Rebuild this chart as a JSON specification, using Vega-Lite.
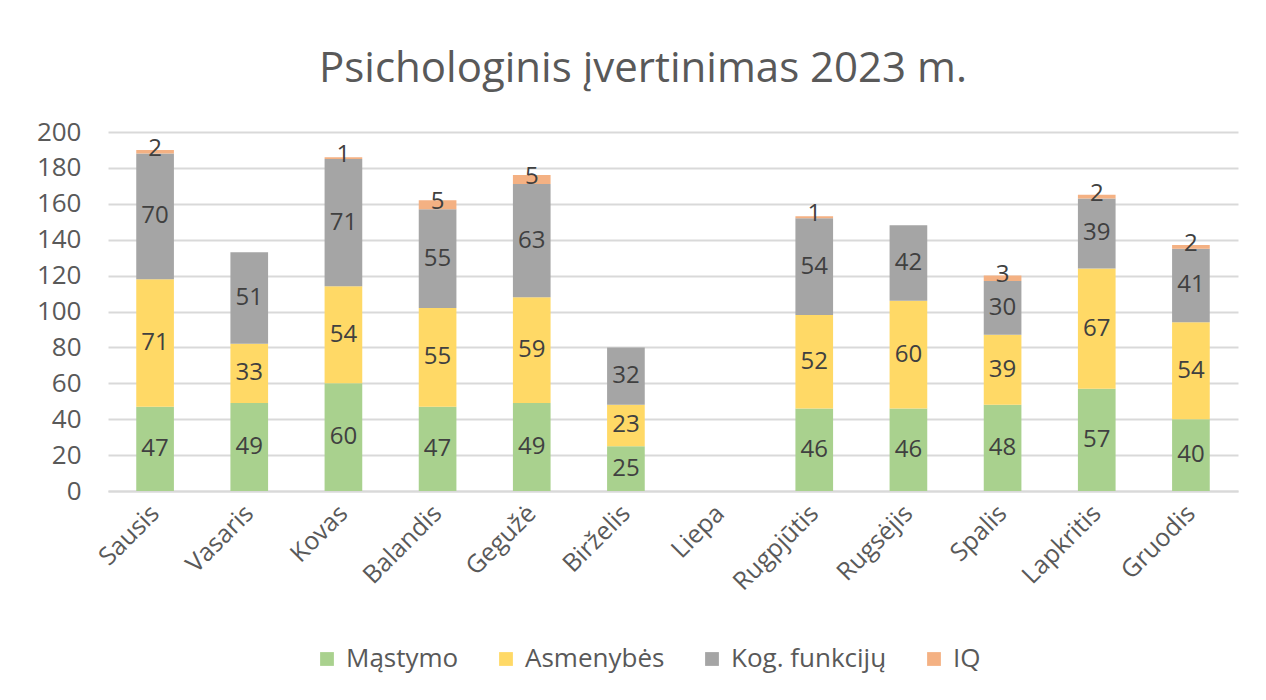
{
  "$schema": "https://vega.github.io/schema/vega-lite/v6.json",
  "width": 1130,
  "height": 359,
  "autosize": {"type": "none"},
  "padding": {"left": 108, "top": 132, "right": 28, "bottom": 209},
  "background": "white",
  "config": {"view": {"stroke": null}},
  "title": {
    "text": "Psichologinis įvertinimas 2023 m.",
    "font": "Open Sans",
    "fontSize": 42,
    "fontWeight": "normal",
    "color": "#595959",
    "anchor": "middle",
    "dx": -30,
    "offset": 28
  },
  "data": {
    "values": [
      {"month": "Sausis", "series": "Mąstymo", "k": 1, "value": 47},
      {"month": "Sausis", "series": "Asmenybės", "k": 2, "value": 71},
      {"month": "Sausis", "series": "Kog. funkcijų", "k": 3, "value": 70},
      {"month": "Sausis", "series": "IQ", "k": 4, "value": 2},
      {"month": "Vasaris", "series": "Mąstymo", "k": 1, "value": 49},
      {"month": "Vasaris", "series": "Asmenybės", "k": 2, "value": 33},
      {"month": "Vasaris", "series": "Kog. funkcijų", "k": 3, "value": 51},
      {"month": "Kovas", "series": "Mąstymo", "k": 1, "value": 60},
      {"month": "Kovas", "series": "Asmenybės", "k": 2, "value": 54},
      {"month": "Kovas", "series": "Kog. funkcijų", "k": 3, "value": 71},
      {"month": "Kovas", "series": "IQ", "k": 4, "value": 1},
      {"month": "Balandis", "series": "Mąstymo", "k": 1, "value": 47},
      {"month": "Balandis", "series": "Asmenybės", "k": 2, "value": 55},
      {"month": "Balandis", "series": "Kog. funkcijų", "k": 3, "value": 55},
      {"month": "Balandis", "series": "IQ", "k": 4, "value": 5},
      {"month": "Gegužė", "series": "Mąstymo", "k": 1, "value": 49},
      {"month": "Gegužė", "series": "Asmenybės", "k": 2, "value": 59},
      {"month": "Gegužė", "series": "Kog. funkcijų", "k": 3, "value": 63},
      {"month": "Gegužė", "series": "IQ", "k": 4, "value": 5},
      {"month": "Birželis", "series": "Mąstymo", "k": 1, "value": 25},
      {"month": "Birželis", "series": "Asmenybės", "k": 2, "value": 23},
      {"month": "Birželis", "series": "Kog. funkcijų", "k": 3, "value": 32},
      {"month": "Rugpjūtis", "series": "Mąstymo", "k": 1, "value": 46},
      {"month": "Rugpjūtis", "series": "Asmenybės", "k": 2, "value": 52},
      {"month": "Rugpjūtis", "series": "Kog. funkcijų", "k": 3, "value": 54},
      {"month": "Rugpjūtis", "series": "IQ", "k": 4, "value": 1},
      {"month": "Rugsėjis", "series": "Mąstymo", "k": 1, "value": 46},
      {"month": "Rugsėjis", "series": "Asmenybės", "k": 2, "value": 60},
      {"month": "Rugsėjis", "series": "Kog. funkcijų", "k": 3, "value": 42},
      {"month": "Spalis", "series": "Mąstymo", "k": 1, "value": 48},
      {"month": "Spalis", "series": "Asmenybės", "k": 2, "value": 39},
      {"month": "Spalis", "series": "Kog. funkcijų", "k": 3, "value": 30},
      {"month": "Spalis", "series": "IQ", "k": 4, "value": 3},
      {"month": "Lapkritis", "series": "Mąstymo", "k": 1, "value": 57},
      {"month": "Lapkritis", "series": "Asmenybės", "k": 2, "value": 67},
      {"month": "Lapkritis", "series": "Kog. funkcijų", "k": 3, "value": 39},
      {"month": "Lapkritis", "series": "IQ", "k": 4, "value": 2},
      {"month": "Gruodis", "series": "Mąstymo", "k": 1, "value": 40},
      {"month": "Gruodis", "series": "Asmenybės", "k": 2, "value": 54},
      {"month": "Gruodis", "series": "Kog. funkcijų", "k": 3, "value": 41},
      {"month": "Gruodis", "series": "IQ", "k": 4, "value": 2}
    ]
  },
  "encoding": {
    "x": {
      "field": "month",
      "type": "nominal",
      "sort": null,
      "scale": {
        "domain": ["Sausis", "Vasaris", "Kovas", "Balandis", "Gegužė", "Birželis", "Liepa", "Rugpjūtis", "Rugsėjis", "Spalis", "Lapkritis", "Gruodis"],
        "paddingInner": 0.6,
        "paddingOuter": 0.3
      },
      "axis": {
        "title": null,
        "labelAngle": -45,
        "labelAlign": "right",
        "labelBaseline": "middle",
        "labelFont": "Open Sans",
        "labelFontSize": 25,
        "labelColor": "#595959",
        "labelPadding": 18,
        "ticks": false,
        "domainColor": "#D9D9D9",
        "domainWidth": 2,
        "grid": false
      }
    },
    "y": {
      "field": "value",
      "type": "quantitative",
      "stack": "zero",
      "scale": {"domain": [0, 200], "nice": false},
      "axis": {
        "title": null,
        "values": [0, 20, 40, 60, 80, 100, 120, 140, 160, 180, 200],
        "labelFont": "Open Sans",
        "labelFontSize": 26,
        "labelColor": "#595959",
        "labelPadding": 27,
        "ticks": false,
        "domain": false,
        "grid": true,
        "gridColor": "#D9D9D9",
        "gridWidth": 2
      }
    },
    "order": {"field": "k", "type": "quantitative"}
  },
  "layer": [
    {
      "mark": {"type": "bar"},
      "encoding": {
        "color": {
          "field": "series",
          "type": "nominal",
          "scale": {
            "domain": ["Mąstymo", "Asmenybės", "Kog. funkcijų", "IQ"],
            "range": ["#A9D18E", "#FFD966", "#A5A5A5", "#F4B183"]
          },
          "legend": {
            "title": null,
            "orient": "none",
            "direction": "horizontal",
            "legendX": 206,
            "legendY": 514,
            "symbolType": "square",
            "symbolSize": 190,
            "symbolStrokeWidth": 0,
            "labelFont": "Open Sans",
            "labelFontSize": 26,
            "labelColor": "#595959",
            "labelOffset": 6,
            "columnPadding": 34
          }
        }
      }
    },
    {
      "mark": {"type": "text", "font": "Open Sans", "fontSize": 24, "color": "#404040", "baseline": "middle"},
      "encoding": {
        "y": {"field": "value", "type": "quantitative", "stack": "zero", "bandPosition": 0.5},
        "detail": {"field": "series", "type": "nominal"},
        "text": {"condition": {"test": "datum.k == 4", "value": ""}, "field": "value", "type": "quantitative"}
      }
    },
    {
      "mark": {"type": "text", "font": "Open Sans", "fontSize": 24, "color": "#404040", "baseline": "middle", "dy": -3},
      "encoding": {
        "y": {"field": "value", "type": "quantitative", "stack": "zero", "bandPosition": 0.5},
        "detail": {"field": "series", "type": "nominal"},
        "text": {"condition": {"test": "datum.k != 4", "value": ""}, "field": "value", "type": "quantitative"}
      }
    }
  ]
}
